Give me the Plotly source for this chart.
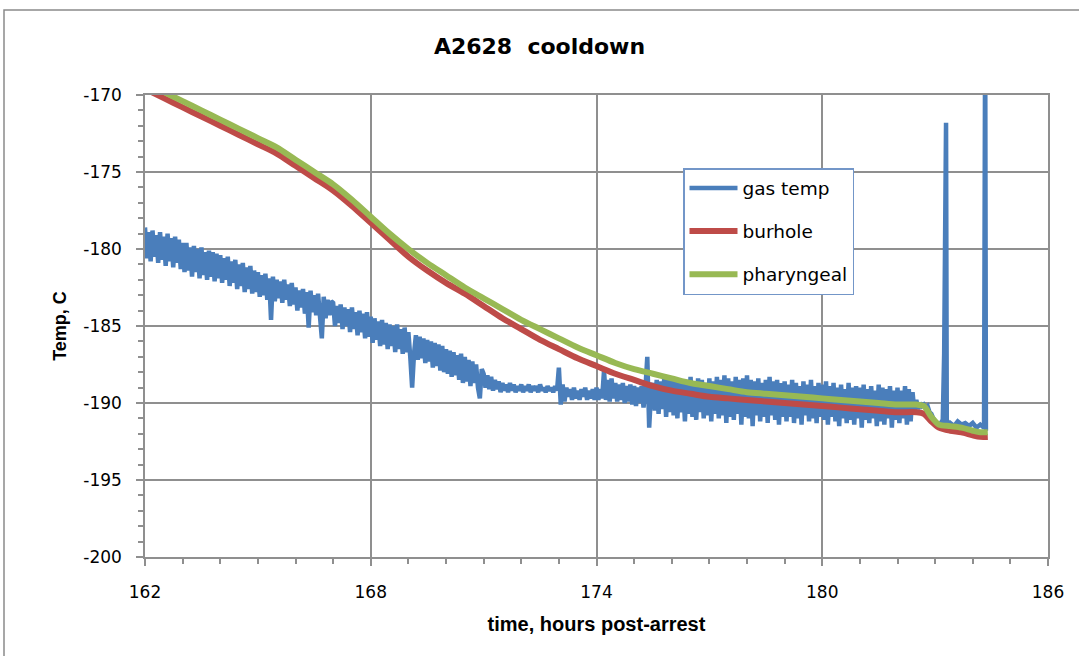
import numpy as np
import plotly.graph_objects as go

# ---------------- data ----------------
# gas temp: readings every 0.05 h from 162.00 to 183.20 (20 per hour row), then spike/tail section
gas_hours_regular = list(np.round(np.linspace(162.0, 183.2, 425), 2))
gas_temp_regular = [
    # 162
    -178.6, -180.6, -178.9, -180.8, -178.8, -180.5, -179.1, -180.9, -178.9, -180.7,
    -179.2, -181.1, -179.0, -180.8, -179.3, -181.2, -179.2, -180.9, -179.4, -181.3,
    # 163
    -179.6, -181.5, -179.6, -181.4, -179.9, -181.8, -179.8, -181.5, -180.0, -181.9,
    -179.9, -181.7, -180.2, -182.0, -180.1, -181.8, -180.2, -182.1, -180.3, -181.9,
    # 164
    -180.4, -182.2, -180.6, -182.0, -180.5, -182.4, -180.8, -182.2, -180.7, -182.6,
    -181.0, -182.4, -180.9, -182.8, -181.2, -182.6, -181.1, -182.9, -181.4, -182.8,
    # 165
    -181.5, -183.1, -181.7, -183.0, -181.6, -183.3, -181.9, -184.6, -181.8, -183.4,
    -182.0, -183.2, -182.1, -183.5, -182.0, -183.3, -182.3, -183.7, -182.2, -183.6,
    # 166
    -182.5, -184.0, -182.7, -183.8, -182.6, -184.2, -182.8, -185.1, -182.7, -184.1,
    -183.0, -184.3, -182.9, -184.1, -185.8, -183.1, -184.5, -183.3, -184.3, -183.4,
    # 167
    -183.5, -185.0, -183.7, -184.8, -183.6, -185.2, -183.8, -185.0, -183.9, -185.4,
    -183.8, -185.2, -184.1, -185.6, -184.0, -185.4, -184.2, -185.8, -184.1, -185.7,
    # 168
    -184.4, -186.1, -184.5, -185.9, -184.7, -186.3, -184.6, -186.2, -184.8, -186.5,
    -184.9, -186.3, -185.0, -186.7, -184.9, -186.5, -185.2, -186.8, -185.1, -186.7,
    # 169
    -185.4, -187.0, -189.0, -186.8, -185.6, -187.2, -185.7, -187.1, -185.8, -187.4,
    -185.9, -187.3, -186.0, -187.7, -186.1, -187.6, -186.2, -187.9, -186.3, -188.0,
    # 170
    -186.5, -188.1, -186.6, -188.3, -186.7, -188.2, -186.9, -188.5, -186.8, -188.7,
    -187.0, -188.6, -187.2, -188.9, -187.3, -188.7, -187.5, -189.0, -189.7, -187.8,
    # 171
    -188.1, -189.0, -188.2, -189.1, -188.3, -189.2, -188.5, -189.1, -188.6, -189.3,
    -188.7, -189.2, -188.8, -189.3, -188.7, -189.2, -188.8, -189.3, -188.9, -189.2,
    # 172
    -188.8, -189.3, -188.9, -189.2, -188.8, -189.3, -188.9, -189.2, -188.9, -189.3,
    -188.8, -189.2, -189.0, -189.3, -188.9, -189.2, -189.0, -189.3, -188.9, -189.2,
    # 173
    -187.7, -190.1, -188.8, -189.9, -189.0, -189.6, -189.1, -189.8, -189.0, -189.7,
    -189.2, -189.8, -189.1, -189.6, -189.0, -189.8, -189.2, -189.7, -189.1, -189.8,
    # 174
    -189.0, -189.8, -189.1, -189.7, -187.9, -189.8, -188.5, -189.9, -188.4, -189.7,
    -188.7, -189.9, -188.8, -189.8, -188.7, -190.0, -188.9, -189.9, -188.8, -190.1,
    # 175
    -188.9, -190.2, -189.0, -190.0, -188.9, -190.3, -189.1, -187.0, -191.6, -189.3,
    -188.7, -190.5, -188.5, -190.7, -188.6, -190.4, -188.4, -190.9, -188.5, -190.6,
    # 176
    -188.3, -190.8, -188.6, -191.0, -188.4, -190.6, -188.7, -191.2, -188.5, -190.7,
    -188.3, -190.9, -188.6, -191.1, -188.4, -190.6, -188.5, -191.0, -188.7, -190.8,
    # 177
    -188.4, -191.2, -188.6, -190.7, -188.3, -191.0, -188.5, -190.8, -188.2, -191.3,
    -188.4, -190.9, -188.6, -191.1, -188.3, -190.7, -188.5, -191.4, -188.4, -190.9,
    # 178
    -188.2, -191.0, -188.5, -191.5, -188.6, -190.8, -188.4, -191.2, -188.7, -190.9,
    -188.5, -191.3, -188.3, -190.8, -188.6, -191.1, -188.5, -191.4, -188.7, -190.9,
    # 179
    -188.6, -191.2, -188.8, -190.9, -188.5, -191.3, -188.7, -191.0, -188.9, -191.4,
    -188.6, -190.8, -188.8, -191.2, -188.5, -191.0, -188.9, -191.3, -188.7, -190.9,
    # 180
    -188.8, -191.1, -188.6, -191.4, -188.9, -190.9, -188.7, -191.2, -189.0, -191.5,
    -188.8, -191.0, -189.1, -191.3, -188.7, -191.1, -189.0, -191.4, -188.9, -191.0,
    # 181
    -189.0, -191.6, -188.8, -191.1, -189.1, -191.3, -188.9, -191.0, -189.2, -191.5,
    -188.8, -191.2, -189.0, -191.4, -189.1, -191.0, -188.9, -191.6, -189.2, -191.1,
    # 182
    -189.0, -191.3, -189.2, -191.0, -188.9, -191.4, -189.1, -191.2, -189.3, -190.6,
    -189.8, -190.4, -190.0, -190.2, -190.1, -190.3, -190.2, -190.6, -190.7, -191.0,
    # 183.00 - 183.20
    -191.2, -191.4, -191.5, -191.3, -191.5,
]
gas_hours_tail = [183.24, 183.27, 183.29, 183.31, 183.4, 183.5, 183.6, 183.7, 183.8,
                  183.9, 184.0, 184.1, 184.2, 184.3, 184.33, 184.35]
gas_temp_tail = [-186.8, -178.4, -171.8, -191.6, -191.3, -191.5, -191.2, -191.4, -191.3,
                 -191.5, -191.3, -191.6, -191.4, -191.6, -165.0, -191.8]

curve_hours = [162.0, 162.5, 163.0, 163.5, 164.0, 164.5, 165.0, 165.5, 166.0, 166.5,
               167.0, 167.5, 168.0, 168.5, 169.0, 169.5, 170.0, 170.5, 171.0, 171.5,
               172.0, 172.5, 173.0, 173.5, 174.0, 174.5, 175.0, 175.5, 176.0, 176.5,
               177.0, 177.5, 178.0, 178.5, 179.0, 179.5, 180.0, 180.5, 181.0, 181.5,
               182.0, 182.5, 182.7, 182.9, 183.1, 183.4, 183.7, 184.0, 184.2, 184.4]
burhole = [-169.6, -170.2, -170.8, -171.4, -172.0, -172.6, -173.2, -173.8, -174.6, -175.4,
           -176.2, -177.2, -178.3, -179.4, -180.5, -181.4, -182.2, -182.9, -183.7, -184.5,
           -185.2, -185.9, -186.5, -187.1, -187.6, -188.1, -188.5, -188.9, -189.2, -189.4,
           -189.6, -189.7, -189.8, -189.9, -190.0, -190.1, -190.2, -190.3, -190.4, -190.5,
           -190.6, -190.6, -190.7, -191.2, -191.6, -191.8, -191.9, -192.1, -192.2, -192.2]
pharyngeal = [-169.2, -169.8, -170.4, -171.0, -171.6, -172.2, -172.8, -173.4, -174.2, -175.0,
              -175.8, -176.8, -177.9, -179.0, -180.0, -180.9, -181.7, -182.5, -183.2, -183.9,
              -184.6, -185.2, -185.8, -186.4, -186.9, -187.4, -187.8, -188.1, -188.4, -188.7,
              -188.9, -189.1, -189.3, -189.4, -189.5, -189.6, -189.7, -189.8, -189.9, -190.0,
              -190.1, -190.1, -190.2, -190.9, -191.4, -191.5, -191.6, -191.8, -191.9, -191.9]

x_ticks = [162, 168, 174, 180, 186]
y_ticks = [-200, -195, -190, -185, -180, -175, -170]

gas_hours = gas_hours_regular + gas_hours_tail
gas_temp = gas_temp_regular + gas_temp_tail

BLUE = "#4A7EBB"
RED = "#BE4B48"
GREEN = "#98B954"
GRID = "#8F8F8F"

fig = go.Figure()
fig.add_trace(go.Scatter(x=gas_hours, y=gas_temp, mode="lines", name="gas temp",
                         legendgroup="a", line=dict(color=BLUE, width=4.5)))
fig.add_trace(go.Scatter(x=curve_hours, y=burhole, mode="lines", name="burhole",
                         legendgroup="b",
                         line=dict(color=RED, width=6, shape="spline", smoothing=0.8)))
fig.add_trace(go.Scatter(x=curve_hours, y=pharyngeal, mode="lines", name="pharyngeal",
                         legendgroup="c",
                         line=dict(color=GREEN, width=6, shape="spline", smoothing=0.8)))

fig.update_layout(
    width=1079, height=656,
    margin=dict(l=145, r=31, t=95, b=99),
    paper_bgcolor="white", plot_bgcolor="white",
    title=dict(text="A2628\u00a0 cooldown", x=0.5, xref="container", xanchor="center",
               y=1 - 46 / 656, yref="container", yanchor="middle",
               font=dict(family="DejaVu Sans", size=22, color="black", weight="bold")),
    showlegend=True,
    legend=dict(x=(683 - 145) / 903, y=(557 - 168) / 462, xanchor="left", yanchor="top",
                bgcolor="white", bordercolor="#7396C8", borderwidth=1.5,
                font=dict(family="DejaVu Sans", size=18.5, color="black"),
                tracegroupgap=16, itemwidth=48),
    xaxis=dict(range=[162, 186], tickvals=x_ticks, ticktext=[str(v) for v in x_ticks],
               showgrid=True, gridcolor=GRID, gridwidth=1.5,
               showline=True, linecolor=GRID, linewidth=1.5, mirror=True,
               ticks="outside", ticklen=7, tickcolor=GRID, tickwidth=1.5,
               minor=dict(dtick=1, tick0=162, ticks="outside", ticklen=5, tickcolor=GRID,
                          tickwidth=1.5, showgrid=False),
               ticklabelstandoff=12,
               tickfont=dict(family="DejaVu Sans", size=17, color="black"),
               title=dict(text="time, hours post-arrest", standoff=16,
                          font=dict(family="Liberation Sans", size=20, color="black",
                                    weight="bold")),
               zeroline=False),
    yaxis=dict(range=[-200, -170], tickvals=y_ticks, ticktext=[str(v) for v in y_ticks],
               showgrid=True, gridcolor=GRID, gridwidth=1.5,
               showline=True, linecolor=GRID, linewidth=1.5, mirror=True,
               ticks="outside", ticklen=7, tickcolor=GRID, tickwidth=1.5,
               minor=dict(dtick=1, tick0=-200, ticks="outside", ticklen=5, tickcolor=GRID,
                          tickwidth=1.5, showgrid=False),
               ticklabelstandoff=11,
               tickfont=dict(family="DejaVu Sans", size=17, color="black"),
               title=dict(text="Temp, C", standoff=12,
                          font=dict(family="Liberation Sans", size=18, color="black",
                                    weight="bold")),
               zeroline=False),
    shapes=[dict(type="rect", xref="paper", yref="paper",
                 x0=(4 - 145) / 903, x1=(1150 - 145) / 903,
                 y0=(557 - 700) / 462, y1=(557 - 10) / 462,
                 line=dict(color="#8A8A8A", width=1.5), fillcolor="rgba(0,0,0,0)",
                 layer="below")],
)

fig.write_html("out.html")
